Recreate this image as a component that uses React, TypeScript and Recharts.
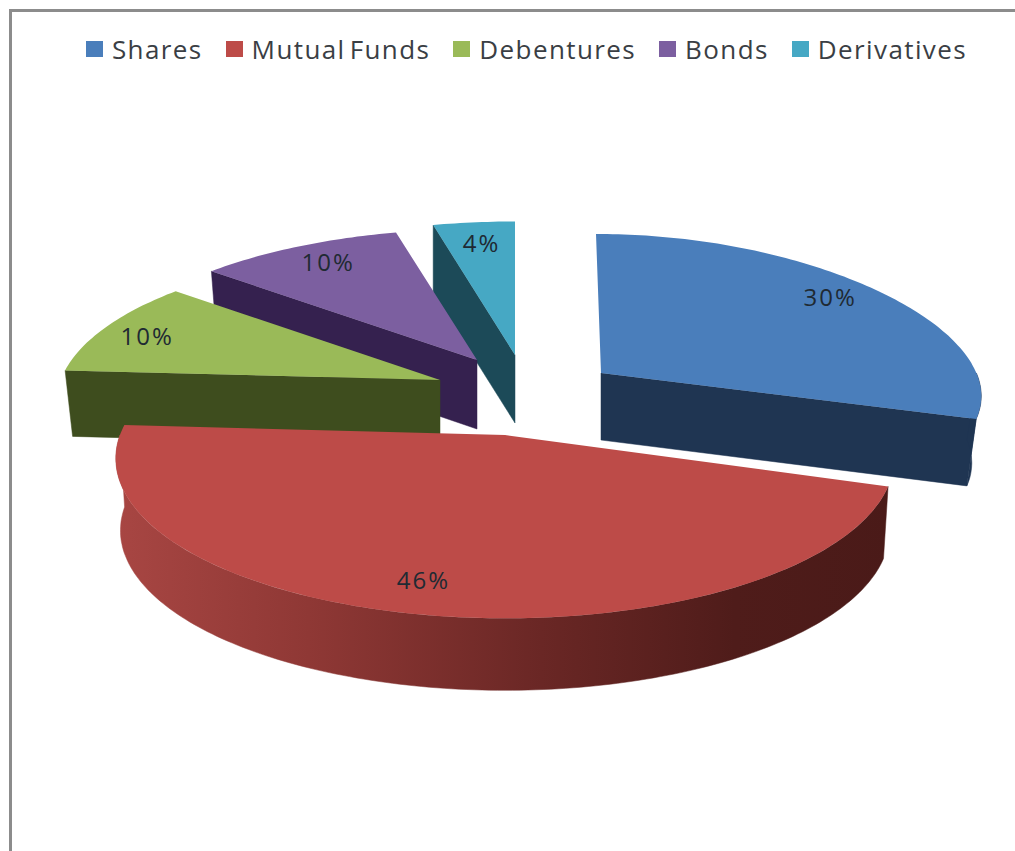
import { Legend, Pie, PieChart } from "recharts";

const INSTRUMENTS = ["Shares", "Mutual Funds", "Debentures", "Bonds", "Derivatives"];
const SHARE_PERCENT = [30, 46, 10, 10, 4];

const rows = INSTRUMENTS.map((name, i) => ({ name, value: SHARE_PERCENT[i] }));

// Rear slices go down first so the front ones can overlap them
const PAINT_ORDER = [4, 3, 2, 0, 1];

const TOP_COLORS = ["#4a7ebb", "#bd4b48", "#9aba58", "#7c5fa0", "#46a8c4"];
const SIDE_COLORS = ["#1f3552", "url(#mutualSide)", "#3e4d1e", "#35214f", "#1c4a58"];

// Explosion and foreshortening of each slice, measured from the pie centre
const SLICE_VIEW = [
  { dx: 86, dy: 8, depth: 67, sx: 0.975, sy: 0.95, py: 0.05, skew: 0.036, shrink: 0.975, nudge: [-1, -6] },
  { dx: -10, dy: 70, depth: 72, sx: 1, sy: 1.035, py: 0.15, skew: 0, shrink: 0.988, nudge: [-12, -6] },
  { dx: -75, dy: 15, depth: 66, sx: 0.985, sy: 1, py: 0.15, skew: 0, shrink: 0.98, nudge: [-13, 0] },
  { dx: -38, dy: -5, depth: 69, sx: 0.99, sy: 1, py: 0.15, skew: 0, shrink: 0.98, nudge: [1, -3] },
  { dx: 0, dy: -10, depth: 68, sx: 1, sy: 1.02, py: 0.15, skew: 0, shrink: 1, nudge: [1, -1] },
];

const CHART_W = 1015;
const CHART_H = 851;
const TILT = 0.4;
const PERSPECTIVE_X = 0.15;
const LABEL_RADIUS = 0.84;

type Pt = [number, number];
type View = (typeof SLICE_VIEW)[number];

const rad = (deg: number) => (deg * Math.PI) / 180;

function project(ax: number, ay: number, R: number, v: View, clock: number, frac = 1): Pt {
  const X = Math.sin(rad(clock));
  const Y = -Math.cos(rad(clock));
  const y = R * TILT * v.sy * frac * Y * (1 + v.py * Y);
  return [ax + R * v.sx * frac * X * (1 + PERSPECTIVE_X * Y) + v.skew * y, ay + y];
}

function arcPoints(ax: number, ay: number, R: number, v: View, from: number, to: number): Pt[] {
  const pts: Pt[] = [];
  const steps = Math.max(2, Math.ceil(to - from));
  for (let k = 0; k <= steps; k++) {
    pts.push(project(ax, ay, R, v, from + ((to - from) * k) / steps));
  }
  return pts;
}

const toPath = (pts: Pt[]) =>
  pts.map((p, i) => `${i ? "L" : "M"}${p[0].toFixed(1)} ${p[1].toFixed(1)}`).join(" ") + " Z";

function Slice(props: any) {
  const { cx, cy, outerRadius, startAngle, endAngle, index, percent } = props;
  const from = 90 - startAngle;
  const to = 90 - endAngle;
  const v = SLICE_VIEW[index];
  const ax = cx + v.dx;
  const ay = cy + v.dy;
  const drop = (p: Pt): Pt => [ax + (p[0] - ax) * v.shrink, p[1] + v.depth];
  const side = SIDE_COLORS[index];

  const faces: Pt[][] = [];
  const apex: Pt = [ax, ay];
  const startPt = project(ax, ay, outerRadius, v, from);
  const endPt = project(ax, ay, outerRadius, v, to);
  if (Math.sin(rad(from)) < -1e-6) faces.push([apex, startPt, drop(startPt), drop(apex)]);
  if (Math.sin(rad(to)) > 1e-6) faces.push([apex, endPt, drop(endPt), drop(apex)]);

  const rimFrom = Math.max(from, 90);
  const rimTo = Math.min(to, 270);
  if (rimTo > rimFrom) {
    const rim = arcPoints(ax, ay, outerRadius, v, rimFrom, rimTo);
    faces.push([...rim, ...rim.map(drop).reverse()]);
  }

  const top = [apex, ...arcPoints(ax, ay, outerRadius, v, from, to)];
  const [lx, ly] = project(ax, ay, outerRadius, v, (from + to) / 2, LABEL_RADIUS);

  return (
    <g>
      {faces.map((f, i) => (
        <path key={i} d={toPath(f)} fill={side} stroke={side} strokeWidth={0.5} />
      ))}
      <path d={toPath(top)} fill={TOP_COLORS[index]} />
      <text
        x={lx + v.nudge[0]}
        y={ly + v.nudge[1]}
        textAnchor="middle"
        dominantBaseline="central"
        fontFamily="'Open Sans', sans-serif"
        fontSize={24}
        letterSpacing={2}
        fill="#1f2a33"
      >
        {Math.round(percent * 100)}%
      </text>
    </g>
  );
}

function LegendRow() {
  return (
    <div
      style={{
        display: "flex",
        justifyContent: "center",
        alignItems: "center",
        gap: 23,
        paddingLeft: 38,
        fontFamily: "'Open Sans', sans-serif",
        fontSize: 26,
        letterSpacing: 1.4,
        wordSpacing: -4,
        color: "#3a3e44",
      }}
    >
      {INSTRUMENTS.map((name, i) => (
        <span key={name} style={{ display: "flex", alignItems: "center", gap: 9 }}>
          <span style={{ width: 17, height: 16, background: TOP_COLORS[i], display: "inline-block" }} />
          {name}
        </span>
      ))}
    </div>
  );
}

export default function App() {
  return (
    <div style={{ position: "absolute", left: 0, top: 0, width: CHART_W, height: CHART_H, background: "#fff" }}>
      <div
        style={{
          position: "absolute",
          left: 9,
          top: 9,
          right: 0,
          bottom: 0,
          borderLeft: "3px solid #8c8c8c",
          borderTop: "3px solid #8c8c8c",
        }}
      />
      <PieChart width={CHART_W} height={CHART_H} margin={{ top: 0, right: 0, bottom: 0, left: 0 }}>
        <defs>
          <linearGradient id="mutualSide" gradientUnits="userSpaceOnUse" x1={115} y1={0} x2={890} y2={0}>
            <stop offset="0" stopColor="#a84643" />
            <stop offset="0.25" stopColor="#8f3835" />
            <stop offset="0.55" stopColor="#6a2725" />
            <stop offset="0.8" stopColor="#4f1c1a" />
            <stop offset="1" stopColor="#4a1a18" />
          </linearGradient>
        </defs>
        <Legend
          content={<LegendRow />}
          wrapperStyle={{ left: 0, top: 31, width: CHART_W }}
        />
        {PAINT_ORDER.map((sliceIndex) => (
          <Pie
            key={sliceIndex}
            data={rows}
            dataKey="value"
            nameKey="name"
            cx={515}
            cy={365}
            outerRadius={385}
            startAngle={90}
            endAngle={-270}
            stroke="none"
            isAnimationActive={false}
            shape={(props: any) => (props.index === sliceIndex ? <Slice {...props} /> : <g />)}
          />
        ))}
      </PieChart>
    </div>
  );
}
